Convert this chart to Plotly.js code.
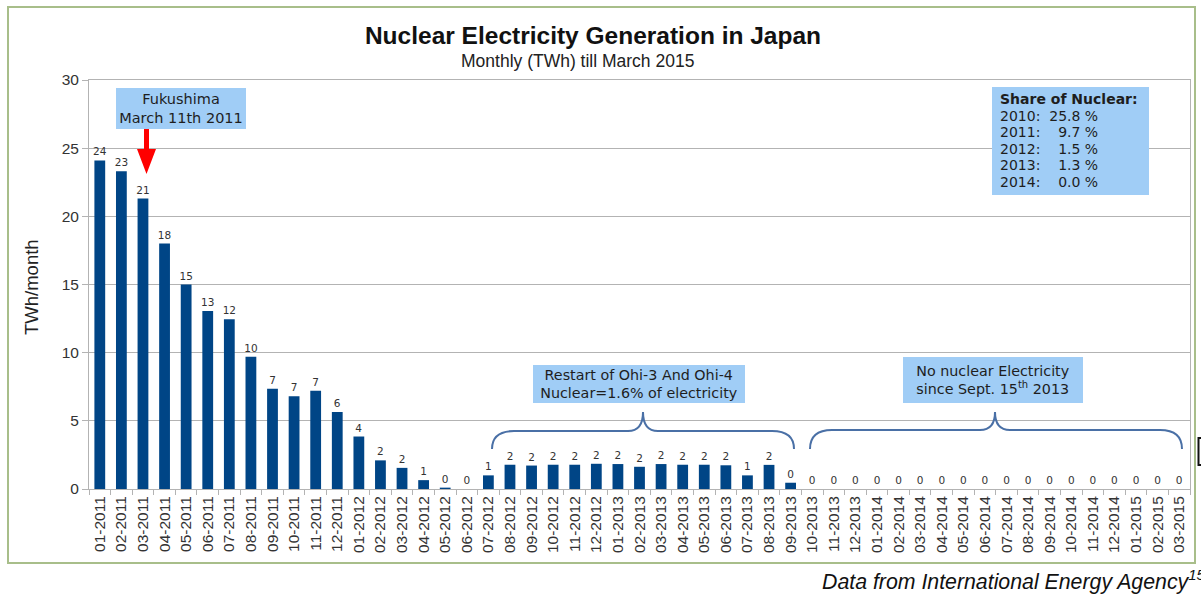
<!DOCTYPE html>
<html>
<head>
<meta charset="utf-8">
<script src="https://cdn.plot.ly/plotly-3.0.1.min.js"></script>
<style>html,body{margin:0;padding:0;background:#fff;}#chart{width:1201px;height:594px;}</style>
</head>
<body>
<div id="chart"></div>
<script>
// ---- data ----
const months = [
  '01-2011','02-2011','03-2011','04-2011','05-2011','06-2011','07-2011','08-2011','09-2011','10-2011','11-2011','12-2011',
  '01-2012','02-2012','03-2012','04-2012','05-2012','06-2012','07-2012','08-2012','09-2012','10-2012','11-2012','12-2012',
  '01-2013','02-2013','03-2013','04-2013','05-2013','06-2013','07-2013','08-2013','09-2013','10-2013','11-2013','12-2013',
  '01-2014','02-2014','03-2014','04-2014','05-2014','06-2014','07-2014','08-2014','09-2014','10-2014','11-2014','12-2014',
  '01-2015','02-2015','03-2015'
];
const twh = [
  24.1, 23.3, 21.3, 18.0, 15.0, 13.05, 12.45, 9.7, 7.35, 6.8, 7.2, 5.65,
  3.85, 2.1, 1.55, 0.65, 0.1, 0.0, 1.0, 1.78, 1.72, 1.78, 1.78, 1.85,
  1.83, 1.63, 1.83, 1.78, 1.78, 1.74, 1.0, 1.77, 0.46, 0, 0, 0,
  0, 0, 0, 0, 0, 0, 0, 0, 0, 0, 0, 0,
  0, 0, 0
];
const shareYears = ['2010', '2011', '2012', '2013', '2014'];
const sharePct = ['25.8', '9.7', '1.5', '1.3', '0.0'];

// ---- helpers (layout pixel -> paper) ----
const L = 89, R = 1190, T = 80, B = 489;
const W = R - L, H = B - T;
const X = px => (px - L) / W;
const Y = py => (B - py) / H;

function bracePath(x0, x1, xm, y0, yh, yp) {
  return 'M' + X(x0) + ',' + Y(y0) +
    ' Q' + X(x0) + ',' + Y(yh) + ' ' + X(x0 + 22) + ',' + Y(yh) +
    ' L' + X(xm - 15) + ',' + Y(yh) +
    ' Q' + X(xm) + ',' + Y(yh) + ' ' + X(xm) + ',' + Y(yp) +
    ' Q' + X(xm) + ',' + Y(yh) + ' ' + X(xm + 15) + ',' + Y(yh) +
    ' L' + X(x1 - 22) + ',' + Y(yh) +
    ' Q' + X(x1) + ',' + Y(yh) + ' ' + X(x1) + ',' + Y(y0);
}

const nb = '\u00a0';
const shareLines = ['<b>Share of Nuclear:</b>'].concat(shareYears.map((y, i) =>
  y + ':' + nb.repeat(sharePct[i].length > 3 ? 2 : 4) + sharePct[i] + nb + '%'));

const boxColor = '#a0cdf6';
const boxFont = {family: 'DejaVu Sans', size: 14.3, color: '#1e1e1e'};

const trace = {
  type: 'bar',
  x: months,
  y: twh,
  width: 0.5,
  marker: {color: '#004586'},
  texttemplate: '%{y:.0f}',
  textposition: 'outside',
  constraintext: 'none',
  cliponaxis: false,
  textfont: {family: 'DejaVu Sans', size: 10.5, color: '#333333'},
  hoverinfo: 'x+y'
};

const annotations = [
  {xref: 'paper', yref: 'paper', x: X(577), y: Y(61), xanchor: 'center', yanchor: 'middle', showarrow: false,
   text: 'Monthly (TWh) till March 2015', font: {family: 'Liberation Sans', size: 17.5, color: '#222222'}},
  {xref: 'paper', yref: 'paper', x: X(31), y: Y(287), xanchor: 'center', yanchor: 'middle', showarrow: false,
   textangle: -90, text: 'TWh/month', font: {family: 'Liberation Sans', size: 18.5, color: '#222222'}},
  {xref: 'paper', yref: 'paper', x: X(181), y: Y(108.5), xanchor: 'center', yanchor: 'middle', showarrow: false,
   text: 'Fukushima<br>March 11th 2011', font: {family: 'DejaVu Sans', size: 14.5, color: '#1e1e1e'},
   bgcolor: boxColor, borderwidth: 0, borderpad: 0, width: 130, height: 41},
  {xref: 'paper', yref: 'paper', x: X(639), y: Y(384), xanchor: 'center', yanchor: 'middle', showarrow: false,
   text: 'Restart of Ohi-3 And Ohi-4<br>Nuclear=1.6% of electricity', font: boxFont,
   bgcolor: boxColor, borderwidth: 0, borderpad: 0, width: 212, height: 38},
  {xref: 'paper', yref: 'paper', x: X(993), y: Y(380), xanchor: 'center', yanchor: 'middle', showarrow: false,
   text: 'No nuclear Electricity<br>since Sept. 15<sup>th</sup> 2013', font: boxFont,
   bgcolor: boxColor, borderwidth: 0, borderpad: 0, width: 180, height: 46},
  {xref: 'paper', yref: 'paper', x: X(820), y: Y(580), xanchor: 'left', yanchor: 'middle', showarrow: false,
   text: '<i>Data from International Energy Agency<sup>15</sup></i>',
   font: {family: 'Liberation Sans', size: 21.3, color: '#111111'}}
];
shareLines.forEach((t, i) => {
  annotations.push({xref: 'paper', yref: 'paper', x: X(998), y: Y(99 + i * 16.5), xanchor: 'left', yanchor: 'middle',
    showarrow: false, text: t, font: {family: 'DejaVu Sans', size: 14, color: '#1e1e1e'}});
});

const layout = {
  width: 1201, height: 594,
  margin: {l: L, r: 1201 - R, t: T, b: 594 - B},
  paper_bgcolor: '#ffffff', plot_bgcolor: '#ffffff',
  showlegend: false,
  title: {
    text: '<b>Nuclear Electricity Generation in Japan</b>',
    font: {family: 'Liberation Sans', size: 24.5, color: '#111111'},
    x: 593 / 1201, xref: 'container', xanchor: 'center',
    y: 1 - 35 / 594, yref: 'container', yanchor: 'middle'
  },
  xaxis: {
    type: 'category',
    tickangle: -90,
    tickfont: {family: 'Liberation Sans', size: 15.5, color: '#333333'},
    ticks: 'outside', tickson: 'boundaries', ticklen: 5, tickcolor: '#b3b3b3',
    showline: true, linecolor: '#b3b3b3', linewidth: 1, mirror: true,
    showgrid: false, zeroline: false,
    range: [-0.5, months.length - 0.5]
  },
  yaxis: {
    range: [0, 30], dtick: 5,
    tickfont: {family: 'Liberation Sans', size: 15.5, color: '#333333'},
    ticks: 'outside', ticklen: 6, tickcolor: '#b3b3b3',
    showline: true, linecolor: '#b3b3b3', linewidth: 1, mirror: true,
    showgrid: true, gridcolor: '#b3b3b3', gridwidth: 1,
    zeroline: false
  },
  shapes: [
    {type: 'rect', xref: 'paper', yref: 'paper', x0: X(8), x1: X(1195), y0: Y(7), y1: Y(563),
     line: {color: '#a8be8a', width: 2}, fillcolor: 'rgba(0,0,0,0)', layer: 'below'},
    {type: 'rect', xref: 'paper', yref: 'paper', x0: X(992), x1: X(1149), y0: Y(87), y1: Y(195),
     line: {width: 0}, fillcolor: boxColor, layer: 'above'},
    {type: 'path', xref: 'paper', yref: 'paper', path: bracePath(492, 794, 643, 449, 431, 412),
     line: {color: '#4a70a6', width: 2}},
    {type: 'path', xref: 'paper', yref: 'paper', path: bracePath(810, 1182, 995, 449, 430, 412),
     line: {color: '#4a70a6', width: 2}},
    {type: 'path', xref: 'paper', yref: 'paper',
     path: 'M' + X(144) + ',' + Y(129) + ' L' + X(149) + ',' + Y(129) + ' L' + X(149) + ',' + Y(149) +
           ' L' + X(156) + ',' + Y(149) + ' L' + X(146.5) + ',' + Y(174) + ' L' + X(137) + ',' + Y(149) +
           ' L' + X(144) + ',' + Y(149) + ' Z',
     fillcolor: '#ff0000', line: {width: 0}},
    {type: 'path', xref: 'paper', yref: 'paper',
     path: 'M' + X(1203) + ',' + Y(438) + ' L' + X(1198.5) + ',' + Y(438) + ' L' + X(1198.5) + ',' + Y(465) + ' L' + X(1203) + ',' + Y(465),
     line: {color: '#111111', width: 2}}
  ],
  annotations: annotations
};

Plotly.newPlot('chart', [trace], layout, {displayModeBar: false, staticPlot: true});
</script>
</body>
</html>
